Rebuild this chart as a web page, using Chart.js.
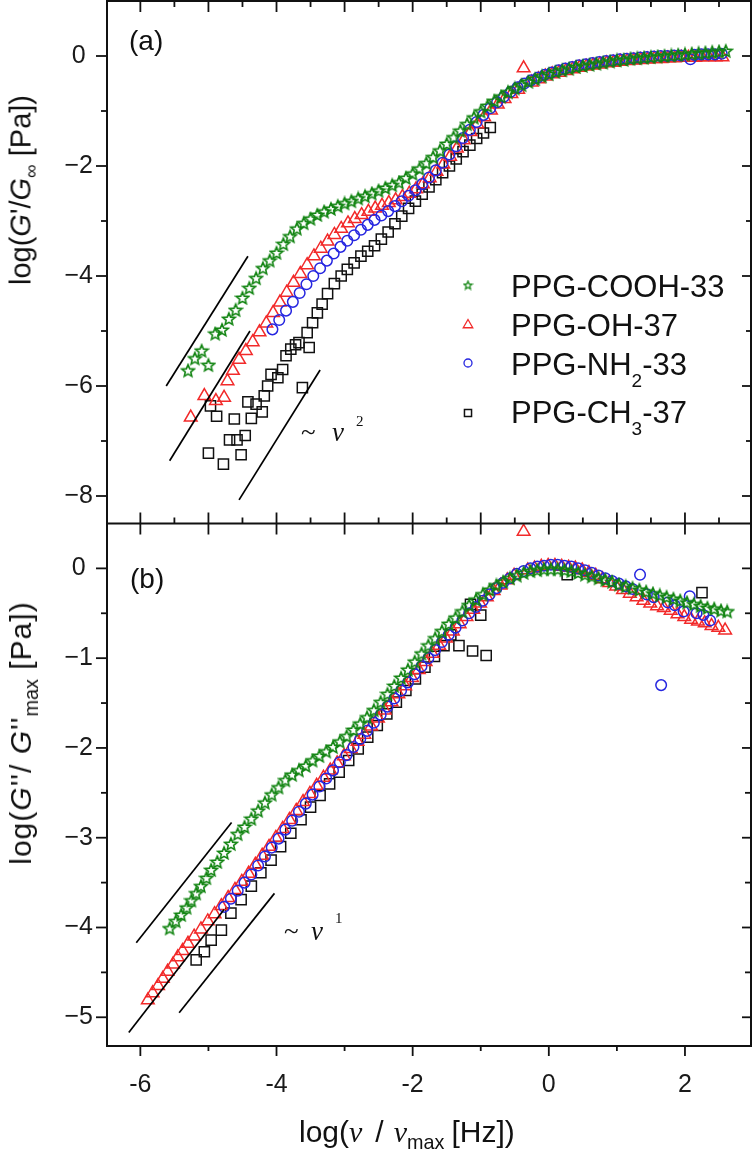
<!DOCTYPE html>
<html>
<head>
<meta charset="utf-8">
<script src="https://cdn.jsdelivr.net/npm/chart.js@4.4.1/dist/chart.umd.min.js"></script>
<style>
html,body{margin:0;padding:0;background:#fff;}
#wrap{position:relative;width:755px;height:1156px;overflow:hidden;background:#fff;}
#c{position:absolute;left:0;top:0;}
.t{position:absolute;font-family:"Liberation Sans",Arial,sans-serif;font-size:28px;line-height:1;color:#111;white-space:pre;}
.rot{transform:translate(-50%,-50%) rotate(-90deg);}
.sb{font-size:0.66em;position:relative;top:0.36em;}
.it{font-style:italic;}
.nu{font-family:"Liberation Serif","Times New Roman",serif;font-style:italic;}
.serif{font-family:"Liberation Serif","Times New Roman",serif;}
</style>
</head>
<body>
<div id="wrap">
<canvas id="c" width="755" height="1156"></canvas>

<div class="t rot" style="left:21px;top:190px;font-size:29px;">log(<span class="it">G</span>'/<span class="it">G</span><span class="sb">∞</span> [Pa])</div>
<div class="t rot" style="left:21px;top:733px;font-size:30px;letter-spacing:1px;">log(<span class="it">G</span>''/ <span class="it">G</span>''<span class="sb" style="letter-spacing:0">max</span> [Pa])</div>
<div class="t" style="left:299px;top:1117px;font-size:30px;">log(<span class="nu">ν</span><span style="margin-left:13px">/</span><span class="nu" style="margin-left:10px">ν</span><span class="sb">max</span><span style="margin-left:7px">[Hz])</span></div>

<div class="t" style="left:129px;top:27px;font-size:28px;">(a)</div>
<div class="t" style="left:130px;top:565px;font-size:28px;">(b)</div>

<div class="t serif" style="left:301px;top:419px;font-size:27px;">~</div>
<div class="t nu" style="left:332px;top:419px;font-size:27px;">ν</div>
<div class="t serif" style="left:356px;top:414px;font-size:15px;">2</div>

<div class="t serif" style="left:284px;top:918px;font-size:27px;">~</div>
<div class="t nu" style="left:311px;top:918px;font-size:27px;">ν</div>
<div class="t serif" style="left:335px;top:911px;font-size:15px;">1</div>

<div class="t" style="left:511px;top:271px;font-size:31px;">PPG-COOH-33</div>
<div class="t" style="left:511px;top:310px;font-size:31px;">PPG-OH-37</div>
<div class="t" style="left:511px;top:349px;font-size:31px;">PPG-NH<span style="font-size:19px;position:relative;top:12px;">2</span>-33</div>
<div class="t" style="left:511px;top:397px;font-size:31px;">PPG-CH<span style="font-size:19px;position:relative;top:12px;">3</span>-37</div>
</div>

<script>
// ---------------- DATA ----------------
const seriesNames = ['PPG-COOH-33', 'PPG-OH-37', 'PPG-NH2-33', 'PPG-CH3-37'];

const xMajorTicks = [-6, -4, -2, 0, 2];
const xMinorTicks = [-5, -3, -1, 1];
const xHalfTicks = [-5.5, -4.5, -3.5, -2.5, -1.5, -0.5, 0.5, 1.5, 2.5];
const topYMajorTicks = [0, -2, -4, -6, -8];
const topYMinorTicks = [-1, -3, -5, -7];
const botYMajorTicks = [0, -1, -2, -3, -4, -5];
const botYMinorTicks = [-0.5, -1.5, -2.5, -3.5, -4.5];

// panel (a): log(G'/Ginf) vs log(nu/nu_max)
const gp_COOH = [[-5.3,-5.72],[-5.2,-5.50],[-5.1,-5.36],[-5.0,-5.62],[-4.9,-5.05],[-4.8,-4.98],[-4.7,-4.78],[-4.6,-4.62],[-4.5,-4.40],[-4.4,-4.22],[-4.3,-4.04],[-4.2,-3.86],[-4.1,-3.72],[-4.0,-3.58],[-3.9,-3.42],[-3.8,-3.28],[-3.7,-3.14],[-3.6,-3.04],[-3.5,-2.96],[-3.4,-2.89],[-3.3,-2.83],[-3.2,-2.78],[-3.1,-2.73],[-3.0,-2.68],[-2.9,-2.64],[-2.8,-2.59],[-2.7,-2.55],[-2.6,-2.50],[-2.5,-2.45],[-2.4,-2.40],[-2.3,-2.35],[-2.2,-2.30],[-2.1,-2.22],[-2.0,-2.14],[-1.9,-2.05],[-1.8,-1.95],[-1.7,-1.84],[-1.6,-1.72],[-1.5,-1.60],[-1.4,-1.48],[-1.3,-1.36],[-1.2,-1.24],[-1.1,-1.12],[-1.0,-1.01],[-0.9,-0.91],[-0.8,-0.82],[-0.7,-0.74],[-0.6,-0.66],[-0.5,-0.59],[-0.4,-0.53],[-0.3,-0.47],[-0.2,-0.42],[-0.1,-0.37],[0.0,-0.33],[0.1,-0.29],[0.2,-0.26],[0.3,-0.23],[0.4,-0.20],[0.5,-0.18],[0.6,-0.16],[0.7,-0.14],[0.8,-0.12],[0.9,-0.10],[1.0,-0.08],[1.1,-0.07],[1.2,-0.05],[1.3,-0.04],[1.4,-0.03],[1.5,-0.02],[1.6,-0.01],[1.7,0.00],[1.8,0.01],[1.9,0.02],[2.0,0.03],[2.1,0.04],[2.2,0.05],[2.3,0.06],[2.4,0.07],[2.5,0.08],[2.6,0.09]];

const gp_OH = [[-5.26,-6.57],[-5.06,-6.18],[-4.89,-6.27],[-4.77,-6.21],[-4.72,-5.91],[-4.64,-5.72],[-4.55,-5.52],[-4.45,-5.36],[-4.35,-5.20],[-4.25,-5.02],[-4.15,-4.86],[-4.05,-4.67],[-3.95,-4.48],[-3.85,-4.30],[-3.75,-4.12],[-3.65,-3.96],[-3.55,-3.80],[-3.45,-3.64],[-3.35,-3.50],[-3.25,-3.37],[-3.15,-3.25],[-3.05,-3.14],[-2.95,-3.04],[-2.85,-2.96],[-2.75,-2.89],[-2.65,-2.83],[-2.55,-2.77],[-2.45,-2.72],[-2.35,-2.67],[-2.25,-2.62],[-2.15,-2.56],[-2.05,-2.50],[-1.95,-2.42],[-1.85,-2.33],[-1.75,-2.22],[-1.65,-2.10],[-1.55,-1.97],[-1.45,-1.83],[-1.35,-1.68],[-1.25,-1.53],[-1.15,-1.38],[-1.05,-1.24],[-0.95,-1.11],[-0.85,-0.99],[-0.75,-0.88],[-0.65,-0.78],[-0.55,-0.69],[-0.45,-0.61],[-0.37,-0.22],[-0.25,-0.48],[-0.15,-0.42],[-0.05,-0.37],[0.05,-0.33],[0.15,-0.30],[0.25,-0.27],[0.35,-0.24],[0.45,-0.21],[0.55,-0.19],[0.65,-0.17],[0.75,-0.15],[0.85,-0.13],[0.95,-0.12],[1.05,-0.10],[1.15,-0.09],[1.25,-0.08],[1.35,-0.07],[1.45,-0.06],[1.55,-0.05],[1.65,-0.05],[1.75,-0.04],[1.85,-0.04],[1.95,-0.03],[2.05,-0.03],[2.15,-0.03],[2.25,-0.02],[2.35,-0.02],[2.45,-0.02],[2.55,-0.02]];

const gp_NH2 = [[-4.06,-4.97],[-3.96,-4.80],[-3.86,-4.63],[-3.76,-4.47],[-3.66,-4.31],[-3.56,-4.15],[-3.46,-4.00],[-3.36,-3.86],[-3.26,-3.72],[-3.16,-3.59],[-3.06,-3.47],[-2.96,-3.36],[-2.86,-3.26],[-2.76,-3.16],[-2.66,-3.07],[-2.56,-2.98],[-2.46,-2.90],[-2.36,-2.82],[-2.26,-2.73],[-2.16,-2.64],[-2.06,-2.54],[-1.96,-2.44],[-1.86,-2.33],[-1.76,-2.21],[-1.66,-2.08],[-1.56,-1.94],[-1.46,-1.79],[-1.36,-1.64],[-1.26,-1.49],[-1.16,-1.34],[-1.06,-1.20],[-0.96,-1.07],[-0.86,-0.95],[-0.76,-0.84],[-0.66,-0.74],[-0.56,-0.65],[-0.46,-0.57],[-0.36,-0.50],[-0.26,-0.44],[-0.16,-0.39],[-0.06,-0.34],[0.04,-0.30],[0.14,-0.26],[0.24,-0.23],[0.34,-0.20],[0.44,-0.17],[0.54,-0.15],[0.64,-0.13],[0.74,-0.11],[0.84,-0.09],[0.94,-0.08],[1.04,-0.06],[1.14,-0.05],[1.24,-0.04],[1.34,-0.03],[1.44,-0.02],[1.54,-0.01],[1.64,0.00],[1.74,0.00],[1.84,0.01],[1.94,0.01],[2.08,-0.06],[2.14,0.02],[2.24,0.03],[2.34,0.03],[2.44,0.03],[2.54,0.04]];

const gp_CH3 = [[-5.00,-7.22],[-4.97,-6.36],[-4.88,-6.55],[-4.78,-7.42],[-4.69,-6.98],[-4.62,-6.60],[-4.58,-6.98],[-4.52,-7.25],[-4.46,-6.90],[-4.42,-6.29],[-4.37,-6.59],[-4.30,-6.33],[-4.21,-6.47],[-4.18,-6.18],[-4.13,-6.00],[-4.08,-5.79],[-3.98,-5.85],[-3.91,-5.70],[-3.86,-5.45],[-3.79,-5.33],[-3.72,-5.25],[-3.67,-5.21],[-3.62,-6.03],[-3.55,-5.03],[-3.52,-5.30],[-3.47,-4.85],[-3.40,-4.67],[-3.33,-4.51],[-3.25,-4.32],[-3.15,-4.14],[-3.05,-4.00],[-2.96,-3.88],[-2.86,-3.76],[-2.76,-3.64],[-2.66,-3.55],[-2.56,-3.45],[-2.46,-3.33],[-2.36,-3.20],[-2.26,-3.05],[-2.16,-2.91],[-2.06,-2.77],[-1.96,-2.64],[-1.86,-2.51],[-1.76,-2.38],[-1.66,-2.25],[-1.56,-2.12],[-1.46,-2.00],[-1.36,-1.87],[-1.26,-1.74],[-1.16,-1.62],[-1.06,-1.50],[-0.96,-1.40],[-0.86,-1.30]];

// panel (b): log(G''/G''max) vs log(nu/nu_max)
const gpp_COOH = [[-5.57,-4.01],[-5.48,-3.93],[-5.40,-3.86],[-5.32,-3.78],[-5.25,-3.70],[-5.18,-3.62],[-5.11,-3.54],[-5.03,-3.45],[-4.96,-3.36],[-4.87,-3.27],[-4.77,-3.17],[-4.67,-3.07],[-4.57,-2.96],[-4.47,-2.88],[-4.37,-2.79],[-4.27,-2.70],[-4.17,-2.61],[-4.07,-2.52],[-3.97,-2.44],[-3.87,-2.36],[-3.77,-2.30],[-3.67,-2.25],[-3.57,-2.20],[-3.47,-2.14],[-3.37,-2.09],[-3.27,-2.04],[-3.17,-1.99],[-3.07,-1.93],[-2.97,-1.87],[-2.87,-1.80],[-2.77,-1.73],[-2.67,-1.66],[-2.57,-1.58],[-2.47,-1.49],[-2.37,-1.40],[-2.27,-1.31],[-2.17,-1.22],[-2.07,-1.13],[-1.97,-1.04],[-1.87,-0.95],[-1.77,-0.86],[-1.67,-0.78],[-1.57,-0.70],[-1.47,-0.62],[-1.37,-0.55],[-1.27,-0.48],[-1.17,-0.41],[-1.07,-0.35],[-0.97,-0.29],[-0.87,-0.24],[-0.77,-0.19],[-0.67,-0.15],[-0.57,-0.11],[-0.47,-0.08],[-0.37,-0.05],[-0.27,-0.03],[-0.17,-0.02],[-0.07,-0.01],[0.03,-0.01],[0.13,-0.01],[0.23,-0.02],[0.33,-0.03],[0.43,-0.05],[0.53,-0.07],[0.63,-0.09],[0.73,-0.11],[0.83,-0.13],[0.93,-0.15],[1.03,-0.18],[1.13,-0.20],[1.23,-0.22],[1.33,-0.24],[1.43,-0.26],[1.53,-0.28],[1.63,-0.30],[1.73,-0.32],[1.83,-0.34],[1.93,-0.36],[2.03,-0.38],[2.13,-0.40],[2.23,-0.42],[2.33,-0.44],[2.43,-0.45],[2.53,-0.47],[2.62,-0.48]];

const gpp_OH = [[-5.89,-4.81],[-5.82,-4.73],[-5.74,-4.65],[-5.67,-4.57],[-5.60,-4.49],[-5.52,-4.41],[-5.45,-4.33],[-5.38,-4.26],[-5.30,-4.18],[-5.21,-4.10],[-5.11,-4.02],[-5.01,-3.93],[-4.91,-3.85],[-4.81,-3.76],[-4.71,-3.67],[-4.61,-3.58],[-4.51,-3.49],[-4.41,-3.40],[-4.31,-3.30],[-4.21,-3.20],[-4.11,-3.10],[-4.01,-3.00],[-3.91,-2.90],[-3.81,-2.80],[-3.71,-2.70],[-3.61,-2.60],[-3.51,-2.51],[-3.41,-2.42],[-3.31,-2.33],[-3.21,-2.25],[-3.11,-2.17],[-3.01,-2.09],[-2.91,-2.01],[-2.81,-1.93],[-2.71,-1.85],[-2.61,-1.76],[-2.51,-1.67],[-2.41,-1.58],[-2.31,-1.49],[-2.21,-1.40],[-2.11,-1.31],[-2.01,-1.22],[-1.91,-1.13],[-1.81,-1.04],[-1.71,-0.95],[-1.61,-0.86],[-1.51,-0.78],[-1.41,-0.70],[-1.31,-0.62],[-1.21,-0.54],[-1.11,-0.46],[-1.01,-0.39],[-0.91,-0.32],[-0.81,-0.25],[-0.71,-0.19],[-0.61,-0.13],[-0.51,-0.08],[-0.37,0.41],[-0.31,-0.02],[-0.21,0.00],[-0.11,0.02],[-0.01,0.03],[0.09,0.03],[0.19,0.02],[0.29,0.01],[0.39,0.00],[0.49,-0.02],[0.59,-0.05],[0.69,-0.08],[0.79,-0.12],[0.89,-0.16],[0.99,-0.20],[1.09,-0.24],[1.19,-0.28],[1.29,-0.32],[1.39,-0.36],[1.49,-0.39],[1.59,-0.42],[1.69,-0.44],[1.79,-0.47],[1.89,-0.51],[1.99,-0.54],[2.09,-0.57],[2.19,-0.59],[2.29,-0.61],[2.39,-0.64],[2.49,-0.66],[2.59,-0.69]];

const gpp_NH2 = [[-4.77,-3.77],[-4.67,-3.68],[-4.57,-3.59],[-4.47,-3.50],[-4.37,-3.41],[-4.27,-3.31],[-4.17,-3.21],[-4.07,-3.11],[-3.97,-3.01],[-3.87,-2.91],[-3.77,-2.81],[-3.67,-2.71],[-3.57,-2.62],[-3.47,-2.52],[-3.37,-2.43],[-3.27,-2.34],[-3.17,-2.25],[-3.07,-2.16],[-2.97,-2.08],[-2.87,-1.99],[-2.77,-1.90],[-2.67,-1.81],[-2.57,-1.72],[-2.47,-1.63],[-2.37,-1.54],[-2.27,-1.45],[-2.17,-1.36],[-2.07,-1.27],[-1.97,-1.18],[-1.87,-1.09],[-1.77,-1.00],[-1.67,-0.91],[-1.57,-0.82],[-1.47,-0.74],[-1.37,-0.66],[-1.27,-0.58],[-1.17,-0.50],[-1.07,-0.43],[-0.97,-0.36],[-0.87,-0.29],[-0.77,-0.22],[-0.67,-0.16],[-0.57,-0.11],[-0.47,-0.06],[-0.37,-0.03],[-0.27,0.00],[-0.17,0.02],[-0.07,0.03],[0.03,0.04],[0.13,0.04],[0.23,0.03],[0.33,0.02],[0.43,0.00],[0.53,-0.02],[0.63,-0.05],[0.73,-0.08],[0.83,-0.11],[0.93,-0.14],[1.03,-0.17],[1.13,-0.20],[1.23,-0.23],[1.34,-0.07],[1.44,-0.29],[1.54,-0.32],[1.65,-1.30],[1.75,-0.38],[1.85,-0.41],[1.98,-0.48],[2.07,-0.31],[2.17,-0.50],[2.27,-0.52],[2.37,-0.58]];

const gpp_CH3 = [[-5.18,-4.36],[-5.06,-4.27],[-4.96,-4.14],[-4.81,-4.03],[-4.67,-3.84],[-4.52,-3.69],[-4.37,-3.54],[-4.23,-3.39],[-4.08,-3.25],[-3.94,-3.10],[-3.79,-2.95],[-3.64,-2.80],[-3.50,-2.66],[-3.36,-2.53],[-3.22,-2.40],[-3.08,-2.27],[-2.94,-2.14],[-2.80,-2.01],[-2.66,-1.88],[-2.52,-1.75],[-2.38,-1.62],[-2.24,-1.49],[-2.10,-1.36],[-1.96,-1.23],[-1.82,-1.10],[-1.68,-0.98],[-1.54,-0.86],[-1.44,-0.74],[-1.32,-0.86],[-1.15,-0.40],[-1.12,-0.92],[-1.00,-0.52],[-0.92,-0.97],[0.27,-0.07],[2.25,-0.27]];

// guide lines (slopes ~2 in (a), ~1 in (b)): [x1, y1, x2, y2]
const slopeLinesTop = [[-5.62,-6.00,-4.42,-3.64],[-5.57,-7.36,-4.39,-5.00],[-4.55,-8.07,-3.36,-5.71]];
const slopeLinesBot = [[-6.06,-4.17,-4.66,-2.83],[-6.17,-5.17,-4.77,-3.80],[-5.43,-4.95,-4.03,-3.62]];

// ---------------- STYLE ----------------
const GREEN = '#118411', RED = '#f22a2a', BLUE = '#2626e0', BLACK = '#111111';

function makeStar(size, color, lw) {
  const c = document.createElement('canvas');
  c.width = size; c.height = size;
  const g = c.getContext('2d');
  const cx = size / 2, cy = size / 2 + 0.5, R = size / 2 - lw, r = R * 0.45;
  g.beginPath();
  for (let i = 0; i < 10; i++) {
    const ang = -Math.PI / 2 + i * Math.PI / 5;
    const rad = i % 2 === 0 ? R : r;
    g.lineTo(cx + rad * Math.cos(ang), cy + rad * Math.sin(ang));
  }
  g.closePath();
  g.lineJoin = 'miter';
  g.strokeStyle = color; g.lineWidth = lw; g.stroke();
  return c;
}
const starImg = makeStar(16, GREEN, 1.6);
const starLegend = makeStar(11, GREEN, 1.3);

const toXY = arr => arr.map(p => ({x: p[0], y: p[1]}));

function markerSet(data, yAxisID, kind, label) {
  const base = {label, data: toXY(data), yAxisID, xAxisID: 'x', showLine: false,
    backgroundColor: 'rgba(0,0,0,0)', pointBorderWidth: 1.5, pointBackgroundColor: 'rgba(0,0,0,0)'};
  if (kind === 'star') return Object.assign(base, {pointStyle: starImg, pointRadius: 6, borderColor: GREEN, pointBorderColor: GREEN, order: 1});
  if (kind === 'circle') return Object.assign(base, {pointStyle: 'circle', pointRadius: 5.3, borderColor: BLUE, pointBorderColor: BLUE, order: 2});
  if (kind === 'triangle') return Object.assign(base, {pointStyle: 'triangle', pointRadius: 7.3, borderColor: RED, pointBorderColor: RED, order: 3});
  return Object.assign(base, {pointStyle: 'rect', pointRadius: 7.2, borderColor: BLACK, pointBorderColor: BLACK, order: 4});
}

function lineSet(seg, yAxisID) {
  return {label: 'guide', data: [{x: seg[0], y: seg[1]}, {x: seg[2], y: seg[3]}], yAxisID, xAxisID: 'x',
    showLine: true, borderColor: '#000', borderWidth: 1.7, pointRadius: 0, fill: false, order: 0};
}

const datasets = [
  markerSet(gp_COOH, 'yTop', 'star', seriesNames[0]),
  markerSet(gp_NH2, 'yTop', 'circle', seriesNames[2]),
  markerSet(gp_OH, 'yTop', 'triangle', seriesNames[1]),
  markerSet(gp_CH3, 'yTop', 'rect', seriesNames[3]),
  markerSet(gpp_COOH, 'yBot', 'star', seriesNames[0]),
  markerSet(gpp_NH2, 'yBot', 'circle', seriesNames[2]),
  markerSet(gpp_OH, 'yBot', 'triangle', seriesNames[1]),
  markerSet(gpp_CH3, 'yBot', 'rect', seriesNames[3]),
  ...slopeLinesTop.map(s => lineSet(s, 'yTop')),
  ...slopeLinesBot.map(s => lineSet(s, 'yBot'))
];

const TICK_FONT = {family: "'Liberation Sans', Arial, sans-serif", size: 25};
const fmtY = v => (v < 0 ? '\u2212' + Math.abs(v) : String(v));
const fmtX = v => (v < 0 ? '-' + Math.abs(v) : String(v));

const frameAndTicks = {
  id: 'frameAndTicks',
  afterDraw(chart) {
    const {ctx, chartArea: a, scales} = chart;
    const x = scales.x, yt = scales.yTop, yb = scales.yBot;
    const mid = yt.bottom;
    ctx.save();
    ctx.strokeStyle = '#111';
    const seg = (x1, y1, x2, y2, w) => { ctx.lineWidth = w; ctx.beginPath(); ctx.moveTo(x1, y1); ctx.lineTo(x2, y2); ctx.stroke(); };
    const TW = 1.8;
    const xp = v => x.getPixelForValue(v);
    // bottom axis (outward)
    xMajorTicks.forEach(v => seg(xp(v), a.bottom, xp(v), a.bottom + 10, TW));
    xMinorTicks.forEach(v => seg(xp(v), a.bottom, xp(v), a.bottom + 5, TW));
    // divider
    xMajorTicks.concat(xMinorTicks).forEach(v => seg(xp(v), mid - 11, xp(v), mid + 11, TW));
    xHalfTicks.forEach(v => seg(xp(v), mid - 6, xp(v), mid, TW));
    // top edge (inward)
    xMajorTicks.concat(xMinorTicks).forEach(v => seg(xp(v), a.top, xp(v), a.top + 11, TW));
    xHalfTicks.forEach(v => seg(xp(v), a.top, xp(v), a.top + 6, TW));
    // left axis (outward)
    topYMajorTicks.forEach(v => { const p = yt.getPixelForValue(v); seg(a.left - 11, p, a.left, p, TW); });
    topYMinorTicks.forEach(v => { const p = yt.getPixelForValue(v); seg(a.left - 6, p, a.left, p, TW); });
    botYMajorTicks.forEach(v => { const p = yb.getPixelForValue(v); seg(a.left - 11, p, a.left, p, TW); });
    botYMinorTicks.forEach(v => { const p = yb.getPixelForValue(v); seg(a.left - 6, p, a.left, p, TW); });
    // right axis (inward)
    topYMajorTicks.forEach(v => { const p = yt.getPixelForValue(v); seg(a.right - 9, p, a.right, p, TW); });
    topYMinorTicks.forEach(v => { const p = yt.getPixelForValue(v); seg(a.right - 5, p, a.right, p, TW); });
    botYMajorTicks.forEach(v => { const p = yb.getPixelForValue(v); seg(a.right - 9, p, a.right, p, TW); });
    botYMinorTicks.forEach(v => { const p = yb.getPixelForValue(v); seg(a.right - 6, p, a.right, p, TW); });
    // frame
    ctx.lineWidth = 2;
    ctx.strokeRect(a.left, a.top, a.right - a.left, a.bottom - a.top);
    seg(a.left, mid, a.right, mid, 2);
    // legend symbols
    const lx = 468;
    ctx.drawImage(starLegend, lx - starLegend.width / 2, 285 - starLegend.height / 2);
    ctx.fillStyle = 'rgba(0,0,0,0)';
    ctx.lineWidth = 1.3;
    ctx.strokeStyle = RED;
    Chart.helpers.drawPoint(ctx, {pointStyle: 'triangle', radius: 5.5, rotation: 0, borderWidth: 1.3}, lx, 325);
    ctx.strokeStyle = BLUE;
    Chart.helpers.drawPoint(ctx, {pointStyle: 'circle', radius: 4, rotation: 0, borderWidth: 1.3}, lx, 363);
    ctx.strokeStyle = BLACK;
    ctx.lineWidth = 1.5;
    Chart.helpers.drawPoint(ctx, {pointStyle: 'rect', radius: 5, rotation: 0, borderWidth: 1.5}, lx, 413);
    ctx.restore();
  }
};

new Chart(document.getElementById('c'), {
  type: 'scatter',
  data: {datasets},
  options: {
    responsive: false,
    animation: false,
    devicePixelRatio: 1,
    layout: {autoPadding: false, padding: {left: 0, right: 4, top: 1, bottom: 0}},
    plugins: {legend: {display: false}, tooltip: {enabled: false}, title: {display: false}},
    elements: {point: {hoverRadius: 0}},
    scales: {
      x: {
        type: 'linear', position: 'bottom', min: -6.49, max: 2.97,
        grid: {display: false, drawTicks: false}, border: {display: false},
        afterBuildTicks: s => { s.ticks = xMajorTicks.map(v => ({value: v})); },
        afterFit: s => { s.height = 110; s.paddingLeft = 0; s.paddingRight = 0; s.paddingTop = 0; s.paddingBottom = 0; },
        ticks: {autoSkip: false, maxRotation: 0, padding: 24, color: '#1a1a1a', font: TICK_FONT, callback: v => fmtX(v)}
      },
      yBot: {
        type: 'linear', position: 'left', stack: 'panels', stackWeight: 1, weight: 0,
        min: -5.32, max: 0.5,
        grid: {display: false, drawTicks: false}, border: {display: false},
        afterBuildTicks: s => { s.ticks = botYMajorTicks.map(v => ({value: v})); },
        afterFit: s => { s.width = 107; s.paddingTop = 0; s.paddingBottom = 0; s.paddingLeft = 0; s.paddingRight = 0; },
        ticks: {autoSkip: false, crossAlign: 'center', padding: 14, color: '#1a1a1a', font: TICK_FONT, callback: v => fmtY(v)}
      },
      yTop: {
        type: 'linear', position: 'left', stack: 'panels', stackWeight: 1, weight: 1,
        min: -8.5, max: 1.0,
        grid: {display: false, drawTicks: false}, border: {display: false},
        afterBuildTicks: s => { s.ticks = topYMajorTicks.map(v => ({value: v})); },
        afterFit: s => { s.width = 107; s.paddingTop = 0; s.paddingBottom = 0; s.paddingLeft = 0; s.paddingRight = 0; },
        ticks: {autoSkip: false, crossAlign: 'center', padding: 14, color: '#1a1a1a', font: TICK_FONT, callback: v => fmtY(v)}
      }
    }
  },
  plugins: [frameAndTicks]
});
</script>
</body>
</html>
